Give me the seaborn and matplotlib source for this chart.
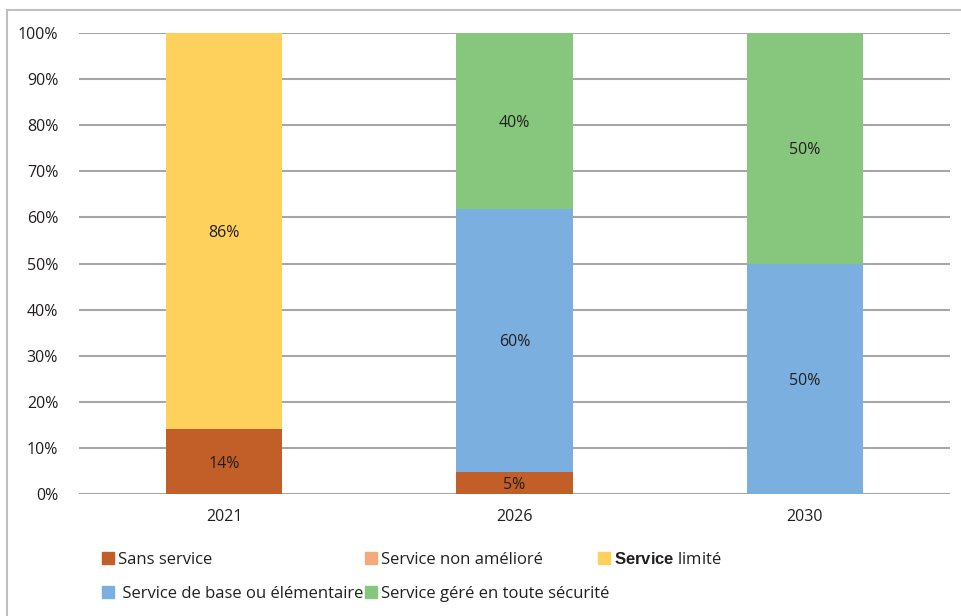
import matplotlib.pyplot as plt
import matplotlib.patches as mpatches
import seaborn as sns
import numpy as np
import pandas as pd

# données (valeurs brutes, empilées à 100 %)
years = ['2021', '2026', '2030']
series = ['Sans service', 'Service non amélioré', 'Service limité',
          'Service de base ou élémentaire', 'Service géré en toute sécurité']
sans_service = [14, 5, 0]
non_ameliore = [0, 0, 0]
limite = [86, 0, 0]
de_base = [0, 60, 50]
gere = [0, 40, 50]
colors = ['#C25E27', '#F4AA7D', '#FED15C', '#7AAFDF', '#87C77D']
legend_labels = ['Sans service', 'Service non amélioré', r'$\bf{Service}$ limité',
                 ' Service de base ou élémentaire', 'Service géré en toute sécurité']

values = np.array([sans_service, non_ameliore, limite, de_base, gere], dtype=float)
pct = values / values.sum(axis=0) * 100

sns.set_style('white')
plt.rcParams['font.family'] = ['Open Sans', 'DejaVu Sans']
plt.rcParams['mathtext.fontset'] = 'custom'
plt.rcParams['mathtext.bf'] = 'Liberation Sans:bold'

txt = '#231F20'
fig = plt.figure(figsize=(9.61, 6.16), dpi=100)
ax = fig.add_axes([0.0822, 0.198, 0.9064, 0.7484])

bottom = np.zeros(len(years))
for i, name in enumerate(series):
    df = pd.DataFrame({'year': years, 'pct': pct[i]})
    sns.barplot(data=df, x='year', y='pct', color=colors[i], width=0.4,
                bottom=bottom, saturation=1, ax=ax, zorder=3, edgecolor='none')
    for j in range(len(years)):
        if values[i, j] > 0:
            ax.text(j, bottom[j] + pct[i, j] / 2, f'{int(values[i, j])}%',
                    ha='center', va='center_baseline', fontsize=11.5,
                    color=txt, zorder=4)
    bottom = bottom + pct[i]

ax.set_xlim(-0.5, 2.5)
ax.set_ylim(0, 100)
ax.set_yticks(range(0, 101, 10))
ax.set_yticklabels([f'{v}%' for v in range(0, 101, 10)])
ax.yaxis.grid(True, color='#A6A6A6', linewidth=1.5, zorder=0)
ax.set_axisbelow(True)
ax.tick_params(axis='y', length=0, pad=15, labelsize=11.5, labelcolor=txt)
ax.tick_params(axis='x', length=0, pad=11, labelsize=11.5, labelcolor=txt)
ax.set_xlabel('')
ax.set_ylabel('')
for s in ax.spines.values():
    s.set_visible(False)

# cadre gris autour du graphique
frame = mpatches.Rectangle((7 / 961, -0.1), 1.2, 1 - 10 / 616 + 0.1,
                           transform=fig.transFigure, fill=False,
                           edgecolor='#BFBFBF', linewidth=1.5)
fig.patches.append(frame)

# légende, placée élément par élément
legend_pos = [(102, 560), (365, 560), (598, 560), (102, 594), (365, 594)]
for k in range(len(series)):
    px, py = legend_pos[k]
    handle = mpatches.Patch(color=colors[k])
    fig.legend([handle], [legend_labels[k]], loc='center left',
               bbox_to_anchor=(px / 961, 1 - py / 616), frameon=False,
               fontsize=12, handlelength=0.7, handleheight=0.7,
               handletextpad=0.25, borderpad=0, borderaxespad=0,
               labelcolor=txt)

fig.savefig('out.png', dpi=100)
